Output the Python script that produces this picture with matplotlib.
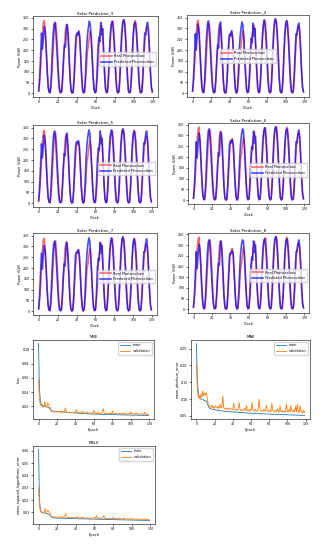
import numpy as np
import matplotlib
matplotlib.use("Agg")
import matplotlib.pyplot as plt

W, H = 324, 550

# ground truth photovoltaic power (kW), 12 samples per day, 10 days
real_pv = [
    10, 45, 110, 195, 285, 330, 338, 270, 180, 90, 25, 5,
    3, 35, 100, 185, 270, 320, 325, 265, 175, 85, 20, 3,
    5, 50, 135, 225, 295, 320, 305, 235, 145, 55, 8, 0,
    3, 45, 130, 215, 265, 280, 285, 250, 170, 80, 15, 0,
    5, 45, 115, 195, 215, 260, 290, 265, 180, 85, 20, 3,
    5, 50, 120, 210, 270, 300, 315, 285, 190, 90, 20, 3,
    5, 50, 140, 240, 310, 330, 335, 275, 185, 85, 15, 2,
    5, 55, 150, 250, 320, 340, 335, 280, 190, 90, 15, 2,
    5, 55, 150, 250, 320, 338, 325, 265, 175, 80, 12, 2,
    5, 50, 140, 230, 280, 305, 310, 275, 190, 95, 25, 5,
]

pred_3 = [
    12, 75, 170, 280, 205, 265, 310, 285, 200, 105, 30, 5,
    3, 60, 170, 265, 320, 330, 285, 205, 120, 45, 8, 2,
    8, 75, 165, 225, 215, 300, 320, 265, 165, 65, 12, 2,
    5, 70, 175, 265, 280, 270, 290, 265, 175, 80, 18, 3,
    8, 85, 195, 265, 305, 335, 320, 255, 165, 75, 15, 3,
    8, 85, 200, 260, 240, 330, 270, 300, 195, 95, 20, 3,
    8, 75, 185, 275, 320, 335, 300, 230, 140, 55, 10, 2,
    8, 80, 195, 285, 330, 342, 320, 250, 160, 65, 10, 2,
    8, 75, 185, 275, 322, 330, 300, 230, 140, 55, 10, 2,
    10, 80, 185, 280, 270, 315, 330, 295, 205, 105, 30, 8,
]
pred_4 = [
    10, 70, 165, 275, 200, 270, 320, 290, 205, 110, 30, 5,
    3, 60, 165, 260, 320, 335, 290, 210, 120, 45, 8, 2,
    8, 70, 160, 225, 210, 305, 330, 270, 170, 65, 12, 2,
    5, 65, 170, 260, 275, 265, 290, 260, 175, 80, 18, 3,
    8, 80, 190, 260, 300, 330, 315, 250, 160, 75, 15, 3,
    8, 80, 195, 255, 235, 325, 265, 300, 190, 95, 20, 3,
    8, 75, 180, 270, 320, 340, 305, 235, 145, 55, 10, 2,
    8, 80, 190, 285, 335, 345, 325, 255, 160, 65, 10, 2,
    8, 75, 185, 275, 325, 335, 305, 235, 140, 55, 10, 2,
    10, 80, 180, 275, 270, 310, 325, 290, 205, 105, 30, 8,
]
pred_5 = [
    12, 75, 170, 275, 210, 270, 315, 285, 200, 105, 30, 5,
    3, 65, 175, 270, 325, 335, 290, 205, 120, 45, 8, 2,
    8, 75, 165, 230, 220, 305, 325, 265, 165, 65, 12, 2,
    5, 70, 175, 265, 285, 275, 290, 265, 175, 80, 18, 3,
    8, 85, 200, 270, 310, 340, 325, 255, 165, 75, 15, 3,
    8, 85, 200, 255, 245, 335, 275, 300, 195, 95, 20, 3,
    8, 80, 190, 280, 325, 340, 305, 230, 140, 55, 10, 2,
    8, 80, 195, 290, 335, 345, 320, 250, 160, 65, 10, 2,
    8, 80, 190, 280, 325, 335, 300, 230, 140, 55, 10, 2,
    10, 80, 185, 280, 275, 320, 335, 295, 205, 105, 30, 8,
]
pred_6 = [
    10, 70, 170, 270, 195, 265, 310, 280, 195, 105, 30, 5,
    3, 60, 170, 265, 320, 330, 285, 205, 120, 45, 8, 2,
    8, 70, 160, 220, 205, 300, 315, 260, 165, 65, 12, 2,
    5, 70, 170, 260, 275, 265, 280, 255, 170, 80, 18, 3,
    8, 85, 195, 265, 305, 330, 320, 255, 165, 75, 15, 3,
    8, 80, 195, 250, 235, 320, 265, 295, 190, 95, 20, 3,
    8, 75, 185, 275, 320, 335, 300, 230, 140, 55, 10, 2,
    8, 80, 195, 285, 330, 340, 320, 250, 160, 65, 10, 2,
    8, 75, 185, 275, 320, 330, 300, 230, 140, 55, 10, 2,
    10, 75, 180, 270, 265, 310, 325, 290, 200, 105, 30, 8,
]
pred_7 = [
    12, 75, 175, 270, 195, 265, 305, 280, 200, 105, 30, 5,
    3, 65, 170, 265, 315, 325, 285, 205, 120, 45, 8, 2,
    8, 75, 165, 220, 210, 300, 320, 260, 165, 65, 12, 2,
    5, 70, 170, 260, 275, 270, 285, 260, 175, 80, 18, 3,
    8, 80, 195, 265, 310, 340, 325, 255, 165, 75, 15, 3,
    8, 80, 200, 245, 235, 320, 270, 305, 195, 95, 20, 3,
    8, 75, 185, 275, 325, 340, 305, 230, 140, 55, 10, 2,
    8, 80, 195, 285, 335, 345, 320, 250, 160, 65, 10, 2,
    8, 75, 185, 275, 325, 335, 300, 230, 140, 55, 10, 2,
    10, 80, 180, 275, 275, 315, 335, 290, 205, 105, 30, 8,
]
pred_8 = [
    10, 70, 170, 270, 190, 260, 305, 280, 200, 105, 30, 5,
    3, 60, 165, 260, 315, 325, 285, 205, 120, 45, 8, 2,
    8, 70, 160, 215, 205, 300, 320, 260, 165, 65, 12, 2,
    5, 65, 165, 255, 265, 260, 275, 255, 170, 80, 18, 3,
    8, 80, 190, 265, 305, 325, 320, 255, 165, 75, 15, 3,
    8, 80, 195, 245, 230, 320, 265, 300, 195, 95, 20, 3,
    8, 75, 185, 275, 320, 330, 300, 230, 140, 55, 10, 2,
    8, 80, 195, 285, 330, 340, 320, 250, 160, 65, 10, 2,
    8, 75, 185, 275, 320, 330, 300, 230, 140, 55, 10, 2,
    10, 75, 180, 270, 270, 310, 325, 290, 205, 105, 30, 8,
]

# training history, 120 epochs (values scaled, see below)
train_mse = [  # x1e-3
    108, 45, 28, 23, 21.5, 21, 20.5, 20, 19.8, 19.5,
    19, 18.5, 17, 15, 14, 13.6, 13.4, 13.2, 13.1, 13,
    12.9, 12.8, 12.7, 12.6, 12.5, 12.4, 12.3, 12.2, 12.1, 12,
    11.9, 11.8, 11.7, 11.6, 11.5, 11.4, 11.3, 11.2, 11.1, 11,
    10.9, 10.8, 10.7, 10.6, 10.5, 10.4, 10.3, 10.2, 10.1, 10,
    9.9, 9.8, 9.7, 9.7, 9.6, 9.6, 9.5, 9.5, 9.4, 9.4,
    9.3, 9.3, 9.2, 9.2, 9.1, 9.1, 9.0, 9.0, 8.9, 8.9,
    8.8, 8.8, 8.8, 8.7, 8.7, 8.7, 8.6, 8.6, 8.6, 8.5,
    8.5, 8.5, 8.4, 8.4, 8.4, 8.3, 8.3, 8.3, 8.2, 8.2,
    8.2, 8.1, 8.1, 8.1, 8.0, 8.0, 8.0, 7.9, 7.9, 7.9,
    7.9, 7.8, 7.8, 7.8, 7.8, 7.7, 7.7, 7.7, 7.7, 7.6,
    7.6, 7.6, 7.6, 7.5, 7.5, 7.5, 7.5, 7.4, 7.4, 7.4,
]
val_mse = [  # x1e-3
    58, 30, 22, 21, 20, 19, 21, 27, 19, 20,
    25, 22, 21, 17, 13, 12.5, 13, 12, 12.5, 13,
    12, 12.5, 13, 12, 11.5, 12, 13.5, 12, 12.5, 18,
    13, 12, 11.5, 12, 11.5, 11.5, 12, 11, 11.5, 11,
    12, 15.5, 12.5, 11, 10.5, 11.5, 11, 12, 13, 10.5,
    11, 10.5, 11, 12.5, 10.5, 10, 11, 10.5, 10, 11,
    14.5, 10.5, 11, 10, 10.5, 11.5, 10, 10, 10.5, 11,
    17, 11, 10, 10.5, 9.5, 10, 10.5, 11, 10, 9.5,
    13.5, 10, 9.5, 10, 10.5, 9.5, 9.5, 11, 10, 9.5,
    10, 9.5, 11.5, 9.5, 9, 10, 9.5, 9, 10.5, 9.5,
    12.5, 9.5, 9, 9.5, 10, 9, 11, 9, 9.5, 9,
    9.5, 9, 10, 9, 8.5, 12, 9, 8.5, 9, 8.5,
]
train_mae = [  # x1e-3
    265, 160, 120, 105, 102, 100, 99, 98, 97, 96,
    95, 93, 88, 80, 74, 72, 71, 70, 69.5, 69,
    68.5, 68, 67.5, 67, 66.5, 66, 65.5, 65, 64.8, 64.5,
    64.2, 64, 63.7, 63.4, 63.2, 63, 62.7, 62.4, 62.2, 62,
    61.8, 61.6, 61.4, 61.2, 61, 60.8, 60.6, 60.4, 60.2, 60,
    59.8, 59.6, 59.4, 59.2, 59, 58.8, 58.7, 58.6, 58.4, 58.2,
    58, 57.9, 57.8, 57.6, 57.4, 57.3, 57.2, 57, 56.9, 56.8,
    56.6, 56.5, 56.4, 56.2, 56.1, 56, 55.9, 55.8, 55.6, 55.5,
    55.4, 55.3, 55.2, 55.1, 55, 54.9, 54.8, 54.7, 54.6, 54.5,
    54.4, 54.3, 54.2, 54.1, 54, 53.9, 53.8, 53.7, 53.6, 53.5,
    53.4, 53.3, 53.2, 53.1, 53, 52.9, 52.8, 52.7, 52.6, 52.5,
    52.4, 52.3, 52.2, 52.1, 52, 51.9, 51.8, 51.7, 51.6, 51.5,
]
val_mae = [  # x1e-3
    205, 130, 105, 110, 100, 115, 105, 125, 110, 118,
    112, 120, 100, 85, 78, 80, 75, 82, 74, 78,
    72, 80, 76, 73, 78, 72, 85, 74, 76, 110,
    75, 72, 70, 74, 68, 72, 70, 73, 69, 71,
    68, 88, 72, 67, 70, 66, 72, 90, 70, 66,
    68, 65, 70, 72, 66, 82, 65, 68, 64, 70,
    66, 90, 68, 64, 66, 70, 63, 65, 72, 100,
    68, 64, 66, 63, 70, 65, 64, 82, 66, 62,
    64, 68, 62, 88, 66, 63, 62, 66, 62, 72,
    64, 61, 80, 63, 62, 66, 61, 64, 62, 86,
    63, 62, 70, 61, 82, 64, 62, 68, 62, 78,
    62, 85, 62, 60, 80, 62, 64, 58, 68, 60,
]
train_msle = [  # x1e-4
    610, 200, 120, 105, 100, 98, 96, 94, 92, 90,
    88, 85, 78, 70, 62, 58, 57, 56, 55.5, 55,
    54.6, 54.3, 54, 53.7, 53.4, 53.1, 52.8, 52.5, 52.2, 52,
    51.8, 51.6, 51.4, 51.2, 51, 50.8, 50.6, 50.4, 50.2, 50,
    49.8, 49.6, 49.4, 49.2, 49, 48.8, 48.6, 48.4, 48.2, 48,
    47.8, 47.6, 47.4, 47.2, 47, 46.8, 46.6, 46.4, 46.2, 46,
    45.8, 45.6, 45.4, 45.2, 45, 44.8, 44.6, 44.4, 44.2, 44,
    43.8, 43.6, 43.4, 43.2, 43, 42.8, 42.6, 42.4, 42.2, 42,
    41.8, 41.6, 41.4, 41.2, 41, 40.8, 40.6, 40.4, 40.2, 40,
    39.9, 39.8, 39.6, 39.4, 39.2, 39, 38.9, 38.8, 38.6, 38.4,
    38.2, 38, 37.9, 37.8, 37.6, 37.4, 37.2, 37, 36.9, 36.8,
    36.6, 36.4, 36.2, 36, 35.9, 35.8, 35.6, 35.4, 35.2, 35,
]
val_msle = [  # x1e-4
    300, 150, 110, 105, 98, 95, 110, 130, 100, 105,
    120, 108, 100, 80, 65, 62, 66, 60, 63, 65,
    60, 62, 66, 60, 58, 61, 68, 60, 62, 90,
    64, 60, 58, 61, 57, 58, 60, 56, 58, 56,
    60, 68, 61, 56, 54, 57, 55, 60, 62, 53,
    55, 53, 55, 58, 53, 52, 55, 53, 51, 55,
    58, 52, 75, 51, 52, 56, 50, 51, 53, 58,
    75, 54, 50, 52, 49, 51, 52, 55, 50, 48,
    62, 50, 48, 50, 52, 48, 47, 54, 49, 47,
    49, 47, 55, 47, 45, 49, 47, 45, 50, 46,
    52, 46, 45, 46, 48, 44, 50, 44, 45, 44,
    45, 43, 47, 43, 42, 50, 43, 41, 43, 41,
]

TITLE_FS = 2.9
LABEL_FS = 2.5
TICK_FS = 2.3
LEGEND_FS = 2.5


def add_axes(fig, left, top, right, bottom):
    # pixel box -> figure fraction
    return fig.add_axes([left / W, 1 - bottom / H, (right - left) / W, (bottom - top) / H])


def style(ax):
    ax.tick_params(labelsize=TICK_FS, length=1.5, width=0.4, pad=1)
    for s in ax.spines.values():
        s.set_linewidth(0.4)


def solar_plot(ax, real, pred, n, loc, anchor=None):
    ax.plot(real, color='red', alpha=0.6, linewidth=1.1, label='Real Photovoltaic')
    ax.plot(pred, color='blue', alpha=0.7, linewidth=1.2, label='Predicted Photovoltaic')
    ax.set_title(f"Solar Prediction_{n}", fontsize=TITLE_FS, pad=1.5)
    ax.set_xlabel("Clock", fontsize=LABEL_FS, labelpad=1)
    ax.set_ylabel("Power (kW)", fontsize=LABEL_FS, labelpad=1)
    ax.set_xticks([0, 20, 40, 60, 80, 100, 120])
    ax.set_yticks(range(0, 351, 50))
    ax.legend(loc=loc, bbox_to_anchor=anchor, fontsize=LEGEND_FS, handlelength=3,
              borderpad=0.5, frameon=True, framealpha=0.8, edgecolor='#cccccc')
    style(ax)


def loss_plot(ax, train, val, scale, title, ylabel):
    ax.plot(np.array(train) * scale, color='C0', linewidth=0.6, label='train')
    ax.plot(np.array(val) * scale, color='C1', linewidth=0.6, label='validation')
    ax.set_title(title, fontsize=TITLE_FS, pad=1.5)
    ax.set_xlabel("Epoch", fontsize=LABEL_FS, labelpad=1)
    ax.set_ylabel(ylabel, fontsize=LABEL_FS, labelpad=1)
    ax.set_xticks([0, 20, 40, 60, 80, 100, 120])
    ax.legend(loc='upper right', fontsize=LEGEND_FS, handlelength=3, borderpad=0.5,
              frameon=True, framealpha=0.8, edgecolor='#cccccc')
    style(ax)


fig = plt.figure(figsize=(W / 100, H / 100), dpi=100)

solar_plot(add_axes(fig, 33, 16, 158, 97), real_pv, pred_3, 3, 'center right', (1, 0.47))
solar_plot(add_axes(fig, 187, 15, 309, 97), real_pv, pred_4, 4, 'center')
solar_plot(add_axes(fig, 33, 125, 157, 207), real_pv, pred_5, 5, 'center right', (1, 0.47))
solar_plot(add_axes(fig, 188, 123, 309, 204), real_pv, pred_6, 6, 'center right', (1, 0.42))
solar_plot(add_axes(fig, 33, 233, 157, 315), real_pv, pred_7, 7, 'center right', (1, 0.47))
solar_plot(add_axes(fig, 188, 233, 309, 313), real_pv, pred_8, 8, 'center right', (1, 0.47))

loss_plot(add_axes(fig, 33, 340, 154, 419), train_mse, val_mse, 1e-3, "MSE", "loss")
loss_plot(add_axes(fig, 191, 340, 310, 419), train_mae, val_mae, 1e-3, "MAE", "mean_absolute_error")
loss_plot(add_axes(fig, 33, 446, 155, 524), train_msle, val_msle, 1e-4, "MSLE",
          "mean_squared_logarithmic_error")

fig.savefig("out.png", dpi=100)
